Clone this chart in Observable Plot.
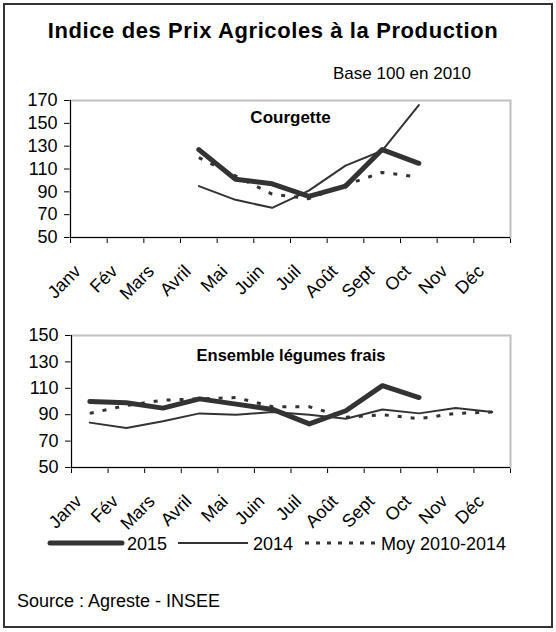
<!DOCTYPE html>
<html><head><meta charset="utf-8">
<script src="https://cdn.jsdelivr.net/npm/d3@7"></script>
<script src="https://cdn.jsdelivr.net/npm/@observablehq/plot@0.6"></script>
<style>
body{margin:0;background:#fff;font-family:"Liberation Sans",Arial,sans-serif;}
#wrap{position:relative;width:556px;height:632px;overflow:hidden;background:#fff;}
#border{position:absolute;left:3px;top:3px;width:546px;height:621px;border:2px solid #333;}
.t{position:absolute;white-space:nowrap;color:#000;}
</style></head><body>
<div id="wrap">
<div id="border"></div>
<div class="t" style="left:0;width:546px;text-align:center;top:18px;font-size:22px;font-weight:bold;letter-spacing:0.6px;">Indice des Prix Agricoles à la Production</div>
<div class="t" style="left:333px;top:64px;font-size:17px;">Base 100 en 2010</div>
<div id="top" style="position:absolute;left:0;top:90px;"></div>
<div id="bot" style="position:absolute;left:0;top:325px;"></div>
<div id="legend" style="position:absolute;left:0;top:532px;"></div>
<div class="t" style="left:17px;top:591px;font-size:18px;">Source : Agreste - INSEE</div>
</div>
<script>
// ---- data ----
const months = ["Janv","Fév","Mars","Avril","Mai","Juin","Juil","Août","Sept","Oct","Nov","Déc"];
const seriesNames = ["2015","2014","Moy 2010-2014"];

const courgette2015 = [null,null,null,127,101,97,86,95,127,115,null,null];
const courgette2014 = [null,null,null,95,83,76,91,113,126,166,null,null];
const courgetteMoy  = [null,null,null,120,104,88,84,96,107,103,null,null];

const legumes2015 = [100,99,95,102,98,94,83,93,112,103,null,null];
const legumes2014 = [84,80,85,91,90,92,90,87,94,91,95,92];
const legumesMoy  = [91,97,101,102,103,96,96,88,90,87,91,92];

const courgetteTicks = [50,70,90,110,130,150,170];
const legumesTicks = [50,70,90,110,130,150];

// ---- styles ----
const lineStyle = {
  "2015": {strokeWidth: 5},
  "2014": {strokeWidth: 2},
  "Moy 2010-2014": {strokeWidth: 3, strokeDasharray: "4,9", strokeLinecap: "butt"}
};
const ink = "#333";
const font = "Liberation Sans, Arial, sans-serif";

function rows(name, arr) {
  return arr.map((v, i) => ({serie: name, pos: i + 0.5, month: months[i], v})).filter(d => d.v != null);
}

function panel({title, s2015, s2014, sMoy, ticks, marginLeft, height, marginBottom, titleDy, titleSize}) {
  const order = [["Moy 2010-2014", sMoy], ["2014", s2014], ["2015", s2015]];
  return Plot.plot({
    width: 556,
    height,
    marginLeft,
    marginRight: 46,
    marginTop: 10,
    marginBottom,
    style: {fontSize: "18px", fontFamily: font, color: "#000", background: "transparent", overflow: "visible"},
    x: {domain: [0, months.length], ticks: d3.range(months.length + 1), tickFormat: () => "", tickSize: 6, label: null},
    y: {domain: [ticks[0], ticks[ticks.length - 1]], ticks, tickSize: 6, tickPadding: 7, label: null},
    marks: [
      Plot.frame({stroke: "#c0c0c0", strokeWidth: 2}),
      Plot.ruleX([0], {stroke: "#000"}),
      Plot.ruleY([ticks[0]], {stroke: "#000"}),
      ...order.map(([name, arr]) => Plot.line(rows(name, arr), {x: "pos", y: "v", stroke: ink, ...lineStyle[name]})),
      Plot.text([title], {frameAnchor: "top", dy: titleDy, fontWeight: "bold", fontSize: titleSize}),
      Plot.text(months, {x: (d, i) => i + 0.5, frameAnchor: "bottom", lineAnchor: "bottom", rotate: -45, textAnchor: "end", dx: -7, dy: 35, fontSize: 18})
    ]
  });
}

document.getElementById("top").appendChild(panel({
  title: "Courgette", s2015: courgette2015, s2014: courgette2014, sMoy: courgetteMoy,
  ticks: courgetteTicks, marginLeft: 70, height: 217, marginBottom: 70, titleDy: 10, titleSize: 17
}));
document.getElementById("bot").appendChild(panel({
  title: "Ensemble légumes frais", s2015: legumes2015, s2014: legumes2014, sMoy: legumesMoy,
  ticks: legumesTicks, marginLeft: 71, height: 207, marginBottom: 65, titleDy: 14, titleSize: 16.5
}));

// ---- legend ----
const lg = d3.create("svg").attr("width", 556).attr("height", 26).style("font-family", font).style("font-size", "18px");
const legendPos = [[50, 122, 127], [178, 248, 253], [305, 378, 381]];
seriesNames.forEach((name, k) => {
  const [x1, x2, tx] = legendPos[k];
  const st = lineStyle[name];
  lg.append("line").attr("x1", x1).attr("x2", x2).attr("y1", 11).attr("y2", 11)
    .attr("stroke", ink).attr("stroke-width", st.strokeWidth)
    .attr("stroke-linecap", name === "2015" ? "round" : "butt")
    .attr("stroke-dasharray", name === "Moy 2010-2014" ? "4,7" : null);
  lg.append("text").attr("x", tx).attr("y", 18).text(name);
});
document.getElementById("legend").appendChild(lg.node());
</script>
</body></html>
